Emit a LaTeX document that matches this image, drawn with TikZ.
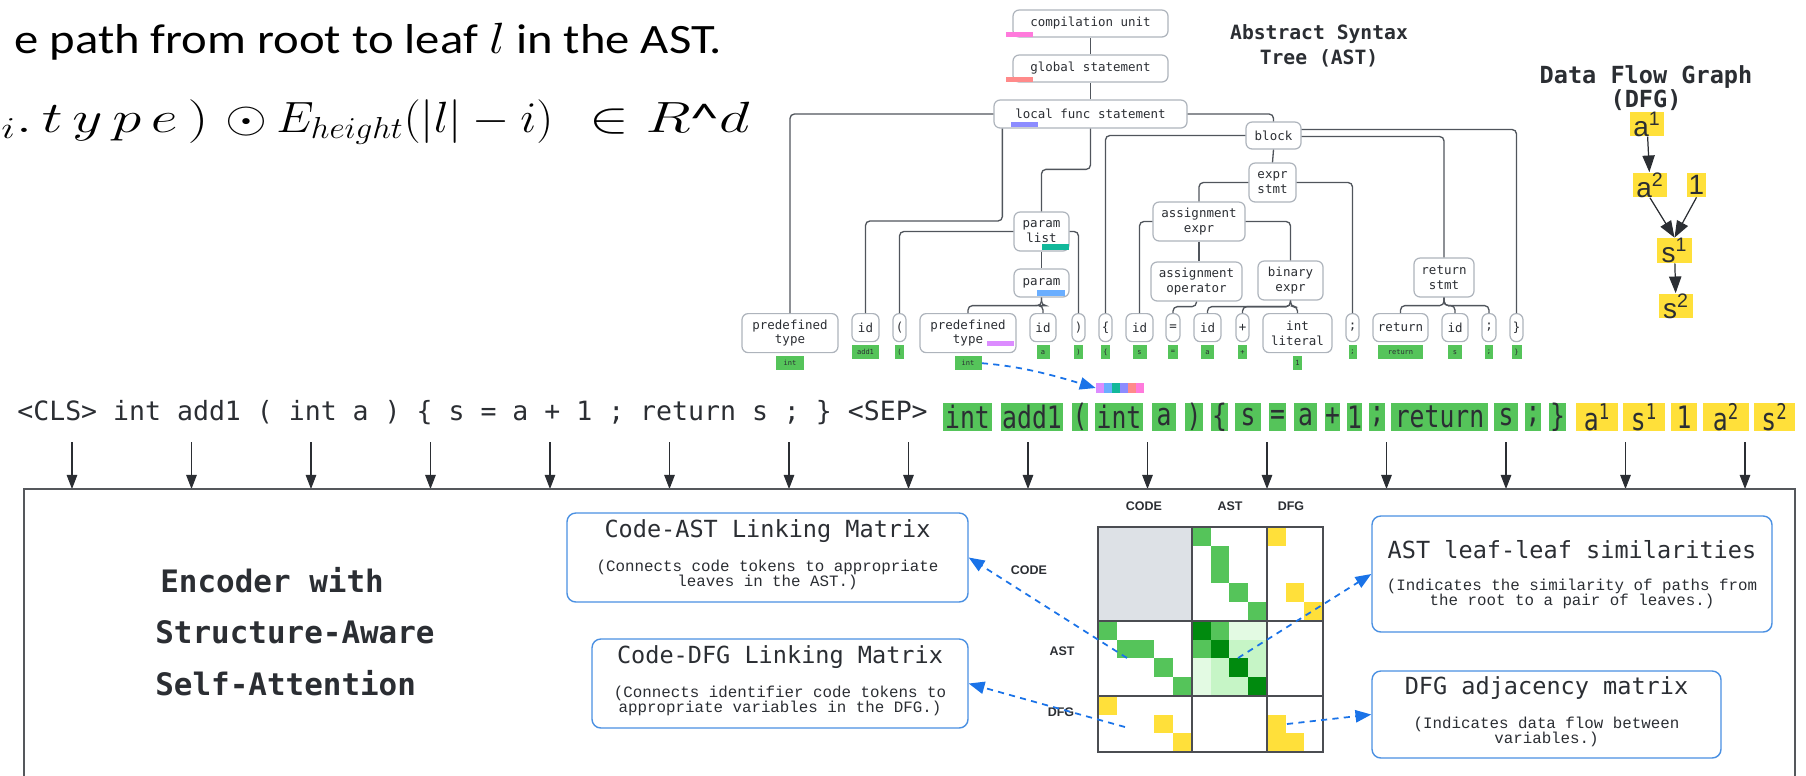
\documentclass[tikz,border=0pt]{standalone}
\usepackage{fontspec}
\setmainfont{Carlito}
\newfontfamily\monofont{DejaVu Sans Mono}
\newfontfamily\condmono[FakeStretch=0.8]{DejaVu Sans Mono}
\newfontfamily\subfont{Liberation Mono}
\newfontfamily\sansfont{Liberation Sans}
\usetikzlibrary{arrows.meta, positioning, calc}

\definecolor{tokgreen}{HTML}{55C45A}
\definecolor{tokyellow}{HTML}{FFE03A}
\definecolor{darkgreen}{HTML}{008A0E}
\definecolor{lightgreen}{HTML}{C6F5C6}
\definecolor{palegreen}{HTML}{E3FAE3}
\definecolor{cellgray}{HTML}{DDE1E6}
\definecolor{linkblue}{HTML}{1A73E8}
\definecolor{boxblue}{HTML}{4A90E2}
\definecolor{nodeborder}{HTML}{AEB4BC}
\definecolor{edgegray}{HTML}{50555C}
\definecolor{inkdark}{HTML}{2B2E33}
\definecolor{tagpink}{HTML}{FF7ADC}
\definecolor{tagsalmon}{HTML}{FF8A8A}
\definecolor{tagviolet}{HTML}{8C8CFF}
\definecolor{tagteal}{HTML}{12B89A}
\definecolor{tagblue}{HTML}{6AAEFF}
\definecolor{taglilac}{HTML}{DC8CFF}

\tikzset{
  sz/.style 2 args={minimum width=#1*0.02cm, minimum height=#2*0.02cm},
  astnode/.style={draw=nodeborder, line width=0.7pt, rounded corners=3.5pt, fill=white, inner sep=0pt, align=center, font=\monofont\fontsize{7.1}{8.4}\selectfont, text=inkdark},
  astedge/.style={draw=edgegray, line width=0.75pt, rounded corners=2.5pt},
  leaflab/.style={fill=tokgreen, inner sep=0pt, font=\monofont\fontsize{4}{4}\selectfont, text=inkdark},
  codetok/.style={fill=tokgreen, inner sep=0pt, font=\condmono\fontsize{17.6}{18}\selectfont, text=inkdark, minimum height=28*0.02cm},
  dfgtok/.style={codetok, fill=tokyellow},
  dfgnode/.style={fill=tokyellow, inner sep=0pt, font=\sansfont\fontsize{15.9}{16}\selectfont, text=inkdark},
  dfgarrow/.style={draw=inkdark, line width=0.7pt, -{Triangle[length=9.5pt, width=7pt]}},
  inarrow/.style={draw=inkdark, line width=0.6pt, -{Triangle[length=8pt, width=6pt]}},
  infobox/.style={draw=boxblue, line width=0.8pt, rounded corners=5pt, fill=white, inner sep=0pt},
  boxtitle/.style={font=\monofont\fontsize{13.4}{14}\selectfont, text=inkdark, inner sep=0pt},
  boxnote/.style={font=\subfont\fontsize{9}{8.6}\selectfont, text=inkdark, align=center, inner sep=0pt},
  linkarrow/.style={draw=linkblue, line width=1pt, dash pattern=on 3.5pt off 3pt, -{Triangle[length=9pt, width=7pt]}},
  mlabel/.style={font=\sansfont\bfseries\fontsize{7.1}{8}\selectfont, text=inkdark, inner sep=0pt},
  enctext/.style={font=\monofont\bfseries\fontsize{17.6}{18}\selectfont, text=inkdark, anchor=west, inner sep=0pt},
  formula/.style={anchor=base west, inner sep=0pt, font=\fontsize{23.8}{26}\selectfont},
}

\begin{document}
\begin{tikzpicture}[x=0.02cm, y=-0.02cm]
  \useasboundingbox (0,0) rectangle (1806,775);
  \clip (0,0) rectangle (1806,775);

  \node[formula] (formA) at (14,53) {\resizebox{14.16cm}{\height}{e path from root to leaf $l$ in the AST.}};
  \node[formula] (formB) at (1,132) {\resizebox{4.14cm}{\height}{${}_i.\,t\,y\,p\,e\,)$}};
  \node[formula] (formC) at (225,132) {\resizebox{0.84cm}{\height}{$\odot$}};
  \node[formula] (formD) at (276,132) {\resizebox{5.54cm}{\height}{$E_{height}(|l|-i)$}};
  \node[formula] (formE) at (589,132) {\resizebox{3.2cm}{\height}{$\in R$\textasciicircum$d$}};

  \node[font=\monofont\bfseries\fontsize{11.2}{14.2}\selectfont, text=inkdark, align=center] (asttitle) at (1319,45.5) {Abstract Syntax\\Tree (AST)};
  \node[astnode, sz={155}{27}] (cu) at (1090.5,23.5) {compilation unit};
  \node[astnode, sz={155}{27}] (gs) at (1090.5,68.5) {global statement};
  \node[astnode, sz={193}{28}] (lfs) at (1090.5,114) {local func statement};
  \node[astnode, sz={55}{27}] (blk) at (1273.5,135.5) {block};
  \node[astnode, sz={47}{39}] (es) at (1272.5,182.5) {expr\\stmt};
  \node[astnode, sz={92}{39}] (ae) at (1199,221.5) {assignment\\expr};
  \node[astnode, sz={91}{39}] (ao) at (1196.5,281.5) {assignment\\operator};
  \node[astnode, sz={65}{39}] (be) at (1290.5,280.5) {binary\\expr};
  \node[astnode, sz={55}{39}] (pl) at (1041.5,231.5) {param\\list};
  \node[astnode, sz={55}{28}] (pm) at (1041.5,283) {param};
  \node[astnode, sz={60}{39}] (rs) at (1444,277.5) {return\\stmt};
  \foreach \nm/\cx/\w/\h/\txt in {pt1/790/96/39/{predefined\\type}, idf/865.5/27/28/id, lp/899.5/13/28/(, pt2/968/96/39/{predefined\\type}, ida/1043/26/28/id, rp/1078.5/13/28/), lb/1105.5/13/28/\{, ids/1139.5/27/28/id, eq/1173/14/28/=, idb/1207.5/27/28/id, pls/1242.5/13/28/+, il/1297.5/69/39/{int\\literal}, sca/1352.5/13/28/{;}, ret/1400.5/55/28/return, idc/1455/26/28/id, scb/1489/14/28/{;}, rb/1516.5/13/28/\}}
    \node[astnode, sz={\w}{\h}, anchor=north] (\nm) at (\cx,313) {\txt};
  \foreach \nm/\w/\txt in {pt1/28/int, idf/27/add1, lp/9/(, pt2/27/int, ida/13/a, rp/9/), lb/9/\{, ids/14/s, eq/10/=, idb/13/a, pls/9/+, il/9/1, sca/8/{;}, ret/45/return, idc/14/s, scb/8/{;}, rb/10/\}}
    \node[leaflab, sz={\w}{14}, anchor=north] (lab\nm) at ([yshift=-1.5pt]\nm.south) {\txt};

  \fill[tagpink] (1006,32) rectangle (1033,37);
  \fill[tagsalmon] (1006,77) rectangle (1033,82);
  \fill[tagviolet] (1011,122) rectangle (1038,127);
  \fill[tagteal] (1042,244) rectangle (1069,250);
  \fill[tagblue] (1037,290) rectangle (1065,296);
  \fill[taglilac] (987,341) rectangle (1014,346);

  \draw[astedge] (gs) -- (cu);
  \draw[astedge] (lfs) -- (gs);
  \draw[astedge] (lfs.west) -| (pt1.north);
  \draw[astedge] ($(lfs.south west)+(9,0)$) |- ($(idf.north)+(0,-92)$) -- (idf.north);
  \draw[astedge] (lfs.south) |- ($(pl.north)+(0,-42)$) -- (pl.north);
  \draw[astedge] (pl.west) -| (lp.north);
  \draw[astedge] (pl.east) -| (rp.north);
  \draw[astedge] (pl) -- (pm);
  \draw[astedge] (pm.south) -- ++(0,8) -| (pt2.north);
  \draw[astedge] (pm.south) -- ++(0,8) -| (ida.north);
  \draw[astedge] (lfs.east) -| (blk.north);
  \draw[astedge] (blk.west) -| (lb.north);
  \draw[astedge] ($(blk.east)+(0,-6)$) -| (rb.north);
  \draw[astedge] ($(blk.east)+(0,1)$) -| (rs.north);
  \draw[astedge] (blk.south) -- (es.north);
  \draw[astedge] (es.west) -| (ae.north);
  \draw[astedge] (es.east) -| (sca.north);
  \draw[astedge] (ae.west) -| (ids.north);
  \draw[astedge] (ae.south) -- (ae.south |- ao.north);
  \draw[astedge] (ae.east) -| (be.north);
  \draw[astedge] (ao.south) -- ++(0,5) -| (eq.north);
  \draw[astedge] (be.south) -- ++(0,6) -| (idb.north);
  \draw[astedge] (be.south) -- ++(0,6) -| (pls.north);
  \draw[astedge] (be.south) -- ++(0,6) -| (il.north);
  \draw[astedge] (rs.south) -- ++(0,8) -| (ret.north);
  \draw[astedge] (rs.south) -- ++(0,8) -| (idc.north);
  \draw[astedge] (rs.south) -- ++(0,8) -| (scb.north);

  \node[font=\monofont\bfseries\fontsize{13.4}{12.6}\selectfont, text=inkdark, align=center] (dfgtitle) at (1646,88) {Data Flow Graph\\(DFG)};
  \node[dfgnode, sz={34}{22}] (a1) at (1647,124) {a\textsuperscript{1}};
  \node[dfgnode, sz={34}{24}] (a2) at (1650,185) {a\textsuperscript{2}};
  \node[dfgnode, sz={19}{24}] (one) at (1696.5,185) {1};
  \node[dfgnode, sz={35}{25}] (s1) at (1674.5,250.5) {s\textsuperscript{1}};
  \node[dfgnode, sz={34}{24}] (s2) at (1676,306) {s\textsuperscript{2}};
  \draw[dfgarrow] (a1) -- (a2);
  \draw[dfgarrow] (a2.south) -- (s1.north);
  \draw[dfgarrow] (one.south) -- (s1.north);
  \draw[dfgarrow] (s1) -- (s2);

  \node[anchor=west, inner sep=0pt, font=\monofont\fontsize{15.1}{16}\selectfont, text=inkdark] (seq) at (17,413) {<CLS> int add1 ( int a ) \{ s = a + 1 ; return s ; \} <SEP>};
  \foreach \nm/\cx/\w/\txt in {ta/967.5/49/int, tb/1032/62/add1, tc/1080/16/(, td/1119/48/int, te/1164/24/a, tf/1194/18/), tg/1219.5/17/\{, th/1248/26/s, ti/1277.5/17/=, tj/1305.5/23/a, tk/1332.5/15/+, tl/1354.5/15/1, tm/1377/16/{;}, tn/1439.5/97/return, to/1506/24/s, tp/1533/16/{;}, tq/1557.5/17/\}}
    \node[codetok, minimum width=\w*0.02cm] (\nm) at (\cx,417) {\txt};
  \foreach \nm/\cx/\w/\txt in {ya/1597/42/a\textsuperscript{1}, yb/1644/42/s\textsuperscript{1}, yc/1684/26/1, yd/1726/46/a\textsuperscript{2}, ye/1774.5/41/s\textsuperscript{2}}
    \node[dfgtok, minimum width=\w*0.02cm] (\nm) at (\cx,417) {\txt};

  \node[inner sep=0pt, sz={48}{10}] (tagbar) at (1120,388) {};
  \foreach \c [count=\k from 0] in {taglilac, tagblue, tagteal, tagviolet, tagsalmon, tagpink}
    \fill[\c] ($(tagbar.west)+(8*\k,-5)$) rectangle ++(8,10);
  \draw[linkarrow] (labpt2.east) .. controls +(40,3) and +(-40,-12) .. (tagbar.west);

  \foreach \i in {0,...,14}
    \draw[inarrow] ({72+119.5*\i},442) -- ({72+119.5*\i},489);
  \draw[draw=inkdark!80, line width=0.7pt] (24,489) rectangle (1795,800);

  \node[enctext] (encA) at (160,580) {Encoder with};
  \node[enctext] (encB) at (155,632) {Structure-Aware};
  \node[enctext] (encC) at (155,683) {Self-Attention};

  \fill[cellgray] (1098,527) rectangle (1191.75,620.75);
  \foreach \r/\c in {0/5, 1/6, 2/6, 3/7, 4/8, 5/0, 6/1, 6/2, 7/3, 8/4, 5/6, 6/5}
    \fill[tokgreen] ({1098+\c*18.75},{527+\r*18.75}) rectangle ++(18.75,18.75);
  \foreach \r/\c in {0/9, 3/10, 4/11, 9/0, 10/3, 11/4, 10/9, 11/9, 11/10}
    \fill[tokyellow] ({1098+\c*18.75},{527+\r*18.75}) rectangle ++(18.75,18.75);
  \foreach \r/\c in {5/5, 6/6, 7/7, 8/8}
    \fill[darkgreen] ({1098+\c*18.75},{527+\r*18.75}) rectangle ++(18.75,18.75);
  \foreach \r/\c in {6/7, 6/8, 7/6, 7/8, 8/6, 8/7}
    \fill[lightgreen] ({1098+\c*18.75},{527+\r*18.75}) rectangle ++(18.75,18.75);
  \foreach \r/\c in {5/7, 5/8, 7/5, 8/5}
    \fill[palegreen] ({1098+\c*18.75},{527+\r*18.75}) rectangle ++(18.75,18.75);
  \draw[draw=inkdark!85, line width=0.9pt] (1098,527) rectangle (1323,752);
  \draw[draw=inkdark!85, line width=0.9pt] (1191.75,527) -- (1191.75,752) (1266.75,527) -- (1266.75,752) (1098,620.75) -- (1323,620.75) (1098,695.75) -- (1323,695.75);
  \node[mlabel] (colCode) at (1144,506) {CODE};
  \node[mlabel] (colAst) at (1230,506) {AST};
  \node[mlabel] (colDfg) at (1291,506) {DFG};
  \node[mlabel] (rowCode) at (1029,570) {CODE};
  \node[mlabel] (rowAst) at (1062,651) {AST};
  \node[mlabel] (rowDfg) at (1061,712) {DFG};

  \node[infobox, sz={401}{89}] (cast) at (767.5,557.5) {};
  \node[boxtitle] (castT) at (767.5,531) {Code-AST Linking Matrix};
  \node[boxnote] (castN) at (767.5,574.5) {(Connects code tokens to appropriate\\leaves in the AST.)};
  \node[infobox, sz={376}{89}] (cdfg) at (780,683.5) {};
  \node[boxtitle] (cdfgT) at (780,657) {Code-DFG Linking Matrix};
  \node[boxnote] (cdfgN) at (780,701) {(Connects identifier code tokens to\\appropriate variables in the DFG.)};
  \node[infobox, sz={400}{116}] (leafsim) at (1572,574) {};
  \node[boxtitle] (leafsimT) at (1572,550) {AST leaf-leaf similarities};
  \node[boxnote] (leafsimN) at (1572,594) {(Indicates the similarity of paths from\\the root to a pair of leaves.)};
  \node[infobox, sz={349}{87}] (dfgadj) at (1546.5,714.5) {};
  \node[boxtitle] (dfgadjT) at (1546.5,688) {DFG adjacency matrix};
  \node[boxnote] (dfgadjN) at (1546.5,731.5) {(Indicates data flow between\\variables.)};

  \coordinate (mAC) at (1127,658);
  \coordinate (mDC) at (1125,727);
  \coordinate (mAA) at (1238,658);
  \coordinate (mDD) at (1287,724);
  \draw[linkarrow] (mAC) -- (cast.east);
  \draw[linkarrow] (mDC) -- (cdfg.east);
  \draw[linkarrow] (mAA) -- (leafsim.west);
  \draw[linkarrow] (mDD) -- (dfgadj.west);
\end{tikzpicture}
\end{document}
